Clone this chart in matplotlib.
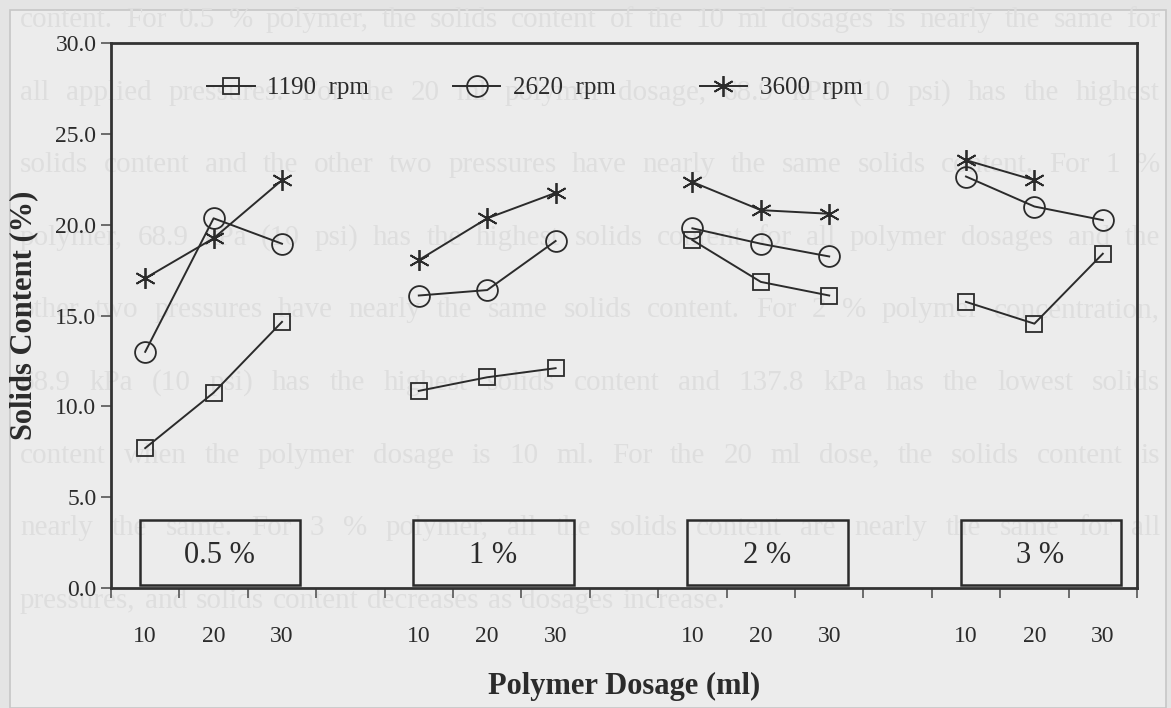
import numpy as np
import matplotlib
matplotlib.use("Agg")
import matplotlib.pyplot as plt
from matplotlib.patches import Rectangle

plt.rcParams['font.family'] = ['Liberation Serif', 'DejaVu Serif']

# solids content (%) per polymer concentration, dosages 10/20/30 ml
concentrations = ['0.5 %', '1 %', '2 %', '3 %']
dosages = ['10', '20', '30']
rpm_1190 = [[7.7, 10.75, 14.65], [10.85, 11.6, 12.1], [19.15, 16.85, 16.1], [15.75, 14.55, 18.4]]
rpm_2620 = [[13.0, 20.35, 18.95], [16.1, 16.4, 19.1], [19.8, 18.95, 18.25], [22.65, 21.0, 20.25]]
rpm_3600 = [[17.05, 19.25, 22.45], [18.05, 20.35, 21.75], [22.35, 20.8, 20.6], [23.55, 22.45, np.nan]]
series_names = ['1190  rpm', '2620  rpm', '3600  rpm']

# text showing through from the back of the page
back_lines = [
    "content. For 0.5 % polymer, the solids content of the 10 ml dosages is nearly the same for",
    "all applied pressures. For the 20 ml polymer dosage, 68.9 kPa (10 psi) has the highest",
    "solids content and the other two pressures have nearly the same solids content. For 1 %",
    "polymer, 68.9 kPa (10 psi) has the highest solids content for all polymer dosages and the",
    "other two pressures have nearly the same solids content. For 2 % polymer concentration,",
    "68.9 kPa (10 psi) has the highest solids content and 137.8 kPa has the lowest solids",
    "content when the polymer dosage is 10 ml. For the 20 ml dose, the solids content is",
    "nearly the same. For 3 % polymer, all the solids content are nearly the same for all",
    "pressures, and solids content decreases as dosages increase.",
]

W, H = 1171, 708
fig = plt.figure(figsize=(W / 100, H / 100), dpi=100)
fig.patch.set_facecolor('#e4e4e4')
fig.patches.append(Rectangle((10 / W, 0), 1156 / W, 1 - 10 / H, transform=fig.transFigure,
                             facecolor='#ececec', edgecolor='#c6c6c6', lw=1.2, zorder=-2))

# faint justified lines behind the chart
renderer = fig.canvas.get_renderer()
for k, line in enumerate(back_lines):
    y = 1 - (20 + 72.6 * k) / H
    words = line.split(' ')
    objs = [fig.text(0, y, w, fontsize=21, color='#dedede', va='center', zorder=-1) for w in words]
    widths = [o.get_window_extent(renderer).width for o in objs]
    if k == len(back_lines) - 1:
        gap = 9.0
    else:
        gap = (1140 - sum(widths)) / (len(words) - 1)
    xpos = 20.0
    for o, w in zip(objs, widths):
        o.set_x(xpos / W)
        xpos += w + gap

ax = fig.add_axes([111 / W, 1 - 588 / H, 1026 / W, 545 / H])
ax.set_facecolor('none')
ax.set_zorder(2)

starts = [0, 4, 8, 12]
ink = '#2b2b2b'
styles = [dict(marker='s', ms=12), dict(marker='o', ms=15), dict(marker=(6, 2, 0), ms=15)]
for s_i, (vals, st) in enumerate(zip([rpm_1190, rpm_2620, rpm_3600], styles)):
    for g, start in enumerate(starts):
        xs = np.arange(start, start + 3)
        ax.plot(xs, vals[g], color=ink, lw=1.4, mfc='none', mec=ink, mew=1.3,
                label=series_names[s_i] if g == 0 else None, **st)

# concentration boxes along the bottom
for start, name in zip(starts, concentrations):
    ax.add_patch(Rectangle((start - 0.08, 0.18), 2.35, 3.55, facecolor='none',
                           edgecolor=ink, lw=1.8, zorder=3))
    ax.text(start + 1.09, 1.8, name, fontsize=22, color=ink, ha='center', va='center')

ax.set_xlim(-0.5, 14.5)
ax.set_ylim(0, 30)
ax.set_yticks(np.arange(0, 31, 5))
ax.set_yticklabels(['%.1f' % v for v in np.arange(0, 31, 5)], fontsize=17, color=ink)

ax.set_xticks(np.arange(-0.5, 15, 1))
ax.set_xticklabels([])
centers = [s + i for s in starts for i in range(3)]
ax.set_xticks(centers, minor=True)
ax.set_xticklabels(dosages * 4, minor=True, fontsize=17, color=ink)
ax.tick_params(axis='x', which='minor', length=0, pad=27)
ax.tick_params(axis='both', which='major', direction='out', length=7, width=1.2, color='#555555')
for sp in ax.spines.values():
    sp.set_linewidth(2)
    sp.set_color('#333333')

ax.set_xlabel('Polymer Dosage (ml)', fontsize=22, fontweight='bold', color=ink, labelpad=18)
ax.set_ylabel('Solids Content (%)', fontsize=22, fontweight='bold', color=ink, labelpad=12)

ax.legend(loc='center left', bbox_to_anchor=(0.072, 0.917), ncol=3, frameon=False,
          fontsize=18, handlelength=1.9, handletextpad=0.5, columnspacing=3.35,
          labelcolor=ink)

fig.savefig('out.png', dpi=100, facecolor=fig.get_facecolor())
